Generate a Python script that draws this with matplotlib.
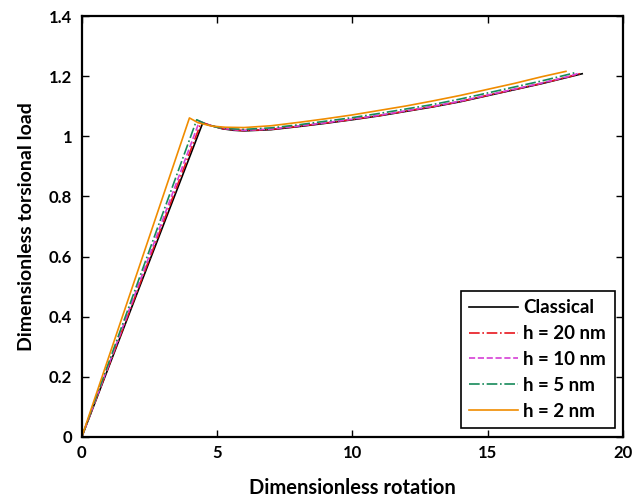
import matplotlib.pyplot as plt

# Data (dimensionless rotation vs torsional load)
x_classical = [0, 4.47, 4.8, 5.2, 5.6, 6.0, 7.0, 8.0, 9.0, 10.0, 11.0, 12.0, 13.0, 14.0, 15.0, 16.0, 17.0, 18.0, 18.5]
y_classical = [0, 1.044, 1.035, 1.025, 1.020, 1.018, 1.022, 1.032, 1.043, 1.055, 1.068, 1.083, 1.098, 1.115, 1.135, 1.155, 1.175, 1.197, 1.208]

x_h20 = [0, 4.42, 4.75, 5.2, 5.6, 6.0, 7.0, 8.0, 9.0, 10.0, 11.0, 12.0, 13.0, 14.0, 15.0, 16.0, 17.0, 18.0, 18.45]
y_h20 = [0, 1.047, 1.036, 1.026, 1.021, 1.019, 1.023, 1.033, 1.044, 1.056, 1.069, 1.084, 1.099, 1.116, 1.136, 1.156, 1.176, 1.198, 1.209]

x_h10 = [0, 4.35, 4.7, 5.2, 5.6, 6.0, 7.0, 8.0, 9.0, 10.0, 11.0, 12.0, 13.0, 14.0, 15.0, 16.0, 17.0, 18.0, 18.35]
y_h10 = [0, 1.050, 1.037, 1.027, 1.022, 1.020, 1.024, 1.034, 1.045, 1.057, 1.070, 1.085, 1.100, 1.117, 1.137, 1.157, 1.177, 1.199, 1.209]

x_h5 = [0, 4.25, 4.6, 5.0, 5.5, 6.0, 7.0, 8.0, 9.0, 10.0, 11.0, 12.0, 13.0, 14.0, 15.0, 16.0, 17.0, 18.0, 18.25]
y_h5 = [0, 1.055, 1.040, 1.030, 1.025, 1.023, 1.028, 1.038, 1.050, 1.062, 1.076, 1.091, 1.106, 1.124, 1.144, 1.164, 1.184, 1.206, 1.212]

x_h2 = [0, 3.98, 4.3, 4.8, 5.3, 6.0, 7.0, 8.0, 9.0, 10.0, 11.0, 12.0, 13.0, 14.0, 15.0, 16.0, 17.0, 17.9]
y_h2 = [0, 1.061, 1.045, 1.034, 1.030, 1.029, 1.035, 1.046, 1.058, 1.071, 1.086, 1.101, 1.118, 1.136, 1.156, 1.176, 1.198, 1.216]

plt.rcParams['font.family'] = ['Lato', 'DejaVu Sans']
plt.rcParams['font.weight'] = 'bold'

fig = plt.figure(figsize=(6.44, 5.01), dpi=100)
ax = fig.add_axes([0.127, 0.128, 0.840, 0.840])

ax.plot(x_classical, y_classical, color='black', lw=1.2, ls='-', label='Classical')
ax.plot(x_h20, y_h20, color='#e8161e', lw=1.2, ls='-.', label='h = 20 nm')
ax.plot(x_h10, y_h10, color='#d63fd6', lw=1.2, ls='--', label='h = 10 nm')
ax.plot(x_h5, y_h5, color='#178a5a', lw=1.2, ls='-.', label='h = 5 nm')
ax.plot(x_h2, y_h2, color='#f08c00', lw=1.2, ls='-', label='h = 2 nm')

ax.set_xlim(0, 20)
ax.set_ylim(0, 1.4)
ax.set_xticks([0, 5, 10, 15, 20])
ax.set_yticks([0, 0.2, 0.4, 0.6, 0.8, 1.0, 1.2, 1.4])
ax.set_yticklabels(['0', '0.2', '0.4', '0.6', '0.8', '1', '1.2', '1.4'])
ax.tick_params(direction='in', top=True, right=True, labelsize=12, length=5, width=1)
ax.tick_params(axis='x', pad=6)
ax.tick_params(axis='y', pad=7)
for lbl in ax.get_xticklabels() + ax.get_yticklabels():
    lbl.set_fontweight('bold')
for s in ax.spines.values():
    s.set_linewidth(1.6)

ax.set_xlabel('Dimensionless rotation', fontsize=14.5, fontweight='bold', labelpad=12)
ax.set_ylabel('Dimensionless torsional load', fontsize=14, fontweight='bold', labelpad=10)

leg = ax.legend(loc='lower right', fontsize=13.5, fancybox=False, framealpha=1,
                edgecolor='black', handlelength=2.6, handletextpad=0.3, borderpad=0.45,
                labelspacing=0.47, borderaxespad=0, bbox_to_anchor=(0.985, 0.021))
leg.get_frame().set_linewidth(1.2)
for t in leg.get_texts():
    t.set_fontweight('bold')

plt.savefig('out.png', dpi=100)
